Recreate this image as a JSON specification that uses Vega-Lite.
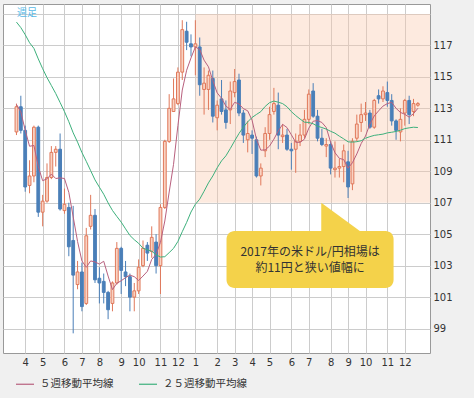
{
  "$schema": "https://vega.github.io/schema/vega-lite/v6.json",
  "width": 427,
  "height": 349,
  "autosize": {"type": "none"},
  "padding": {"left": 3, "top": 4, "right": 44, "bottom": 45},
  "config": {
    "background": "#f0f0f0",
    "view": {"fill": "#ffffff", "stroke": "#999999", "strokeWidth": 1},
    "font": "DejaVu Sans"
  },
  "resolve": {"axis": {"y": "independent"}},
  "encoding": {
    "x": {
      "field": "d",
      "type": "temporal",
      "title": null,
      "scale": {
        "domain": [
          {"year": 2016, "month": 3, "date": 7, "hours": 10},
          {"year": 2018, "month": 1, "date": 5, "hours": 10}
        ]
      },
      "axis": {
        "values": [
          {"year": 2016, "month": 4, "date": 4},
          {"year": 2016, "month": 5, "date": 2},
          {"year": 2016, "month": 6, "date": 6},
          {"year": 2016, "month": 7, "date": 4},
          {"year": 2016, "month": 8, "date": 1},
          {"year": 2016, "month": 9, "date": 5},
          {"year": 2016, "month": 10, "date": 3},
          {"year": 2016, "month": 11, "date": 7},
          {"year": 2016, "month": 12, "date": 5},
          {"year": 2017, "month": 1, "date": 2},
          {"year": 2017, "month": 2, "date": 6},
          {"year": 2017, "month": 3, "date": 6},
          {"year": 2017, "month": 4, "date": 3},
          {"year": 2017, "month": 5, "date": 1},
          {"year": 2017, "month": 6, "date": 5},
          {"year": 2017, "month": 7, "date": 3},
          {"year": 2017, "month": 8, "date": 7},
          {"year": 2017, "month": 9, "date": 4},
          {"year": 2017, "month": 10, "date": 2},
          {"year": 2017, "month": 11, "date": 6},
          {"year": 2017, "month": 12, "date": 4}
        ],
        "format": "%-m",
        "grid": true,
        "gridColor": "#cccccc",
        "ticks": false,
        "domain": false,
        "labelPadding": 4,
        "labelFont": "DejaVu Sans",
        "labelFontSize": 10,
        "labelColor": "#333333",
        "labelOverlap": false,
        "labelFlush": false
      }
    }
  },
  "layer": [
    {
      "data": {"values": [{"d": "2017-01-02", "d2": "2018-02-01", "lo": 107, "hi": 119}]},
      "mark": {"type": "rect", "fill": "#fac8aa", "opacity": 0.38, "clip": true},
      "encoding": {
        "x2": {"field": "d2"},
        "y": {
          "field": "lo",
          "type": "quantitative",
          "title": null,
          "scale": {"domain": [97.45, 119.63], "nice": false, "zero": false},
          "axis": {
            "orient": "right",
            "values": [99, 101, 103, 105, 107, 109, 111, 113, 115, 117, 119],
            "labelExpr": "datum.value == 119 ? '' : datum.label",
            "grid": true,
            "gridColor": "#cccccc",
            "ticks": false,
            "domain": false,
            "labelPadding": 3,
            "labelFont": "DejaVu Sans",
            "labelFontSize": 10,
            "labelColor": "#333333",
            "labelOverlap": false,
            "labelFlush": false
          }
        },
        "y2": {"field": "hi"}
      }
    },
    {
      "data": {"name": "w"},
      "mark": {"type": "rule", "strokeWidth": 1},
      "encoding": {
        "y": {"field": "l", "type": "quantitative", "title": null, "axis": null},
        "y2": {"field": "h"},
        "color": {"condition": {"test": "datum.c >= datum.o", "value": "#e0785a"}, "value": "#4a7fb8"}
      }
    },
    {
      "data": {"name": "w"},
      "mark": {"type": "bar", "size": 2.8, "strokeWidth": 1},
      "encoding": {
        "y": {"field": "o", "type": "quantitative", "title": null, "axis": null},
        "y2": {"field": "c"},
        "fill": {"condition": {"test": "datum.c >= datum.o", "value": "#f9d3c3"}, "value": "#4a7fb8"},
        "stroke": {"condition": {"test": "datum.c >= datum.o", "value": "#e0785a"}, "value": "#4a7fb8"}
      }
    },
    {
      "data": {"name": "w"},
      "transform": [{"fold": ["m5", "m25"], "as": ["s", "v"]}],
      "mark": {"type": "line", "strokeWidth": 1},
      "encoding": {
        "y": {"field": "v", "type": "quantitative", "title": null, "axis": null},
        "color": {
          "field": "s",
          "type": "nominal",
          "scale": {"domain": ["m5", "m25"], "range": ["#b8607e", "#3db07c"]},
          "legend": {
            "orient": "none",
            "legendX": 12,
            "legendY": 370,
            "direction": "horizontal",
            "title": null,
            "symbolType": "stroke",
            "symbolSize": 324,
            "symbolStrokeWidth": 1.2,
            "labelOffset": 5,
            "columnPadding": 22,
            "labelFont": "Noto Sans CJK JP",
            "labelFontSize": 10.5,
            "labelColor": "#333333",
            "labelExpr": "datum.value == 'm5' ? '５週移動平均線' : '２５週移動平均線'"
          }
        }
      }
    },
    {
      "data": {"values": [{"d": "2017-07-23", "t": 107.0, "b": 105.0}, {"d": "2017-09-30", "t": 105.0, "b": 105.0}]},
      "mark": {"type": "area", "fill": "#f4d24a", "opacity": 1},
      "encoding": {
        "y": {"field": "t", "type": "quantitative", "title": null, "axis": null},
        "y2": {"field": "b"}
      }
    },
    {
      "data": {"values": [{"d": "2017-02-21", "d2": "2017-11-16", "lo": 101.58, "hi": 105.2}]},
      "mark": {"type": "rect", "fill": "#f4d24a", "cornerRadius": 8},
      "encoding": {
        "x2": {"field": "d2"},
        "y": {"field": "lo", "type": "quantitative", "title": null, "axis": null},
        "y2": {"field": "hi"}
      }
    },
    {
      "data": {"values": [
        {"d": "2017-07-05", "p": 103.87, "t": "2017年の米ドル/円相場は"},
        {"d": "2017-07-05", "p": 102.85, "t": "約11円と狭い値幅に"}
      ]},
      "mark": {"type": "text", "font": "Noto Sans CJK JP", "fontSize": 12, "color": "#333333", "align": "center", "baseline": "middle"},
      "encoding": {
        "y": {"field": "p", "type": "quantitative", "title": null, "axis": null},
        "text": {"field": "t"}
      }
    },
    {
      "data": {"values": [{"d": "2016-04-07", "p": 119.05, "t": "週足"}]},
      "mark": {"type": "text", "font": "Noto Sans CJK JP", "fontSize": 10, "color": "#5ab8e6", "align": "center", "baseline": "middle"},
      "encoding": {
        "y": {"field": "p", "type": "quantitative", "title": null, "axis": null},
        "text": {"field": "t"}
      }
    }
  ],
  "datasets": {
    "w": [
      {"d": "2016-03-21", "o": 111.5, "h": 113.3, "l": 111.3, "c": 113.1, "m5": 113.25, "m25": 118.48},
      {"d": "2016-03-28", "o": 113.1, "h": 113.8, "l": 111.4, "c": 111.6, "m5": 112.77, "m25": 118.13},
      {"d": "2016-04-04", "o": 111.6, "h": 111.9, "l": 107.7, "c": 108.0, "m5": 111.61, "m25": 117.68},
      {"d": "2016-04-11", "o": 108.1, "h": 109.7, "l": 107.6, "c": 108.7, "m5": 110.59, "m25": 117.17},
      {"d": "2016-04-18", "o": 108.7, "h": 111.9, "l": 108.3, "c": 111.8, "m5": 110.64, "m25": 116.81},
      {"d": "2016-04-25", "o": 111.8, "h": 111.9, "l": 106.1, "c": 106.4, "m5": 109.30, "m25": 116.14},
      {"d": "2016-05-02", "o": 106.4, "h": 107.5, "l": 105.5, "c": 107.1, "m5": 108.40, "m25": 115.52},
      {"d": "2016-05-09", "o": 107.1, "h": 109.5, "l": 107.0, "c": 108.6, "m5": 108.52, "m25": 114.95},
      {"d": "2016-05-16", "o": 108.6, "h": 110.6, "l": 108.5, "c": 110.2, "m5": 108.82, "m25": 114.45},
      {"d": "2016-05-23", "o": 110.2, "h": 110.6, "l": 109.3, "c": 110.4, "m5": 108.54, "m25": 113.94},
      {"d": "2016-05-30", "o": 110.4, "h": 111.4, "l": 106.5, "c": 106.6, "m5": 108.58, "m25": 113.37},
      {"d": "2016-06-06", "o": 106.5, "h": 107.9, "l": 106.3, "c": 106.9, "m5": 108.54, "m25": 112.79},
      {"d": "2016-06-13", "o": 106.7, "h": 107.0, "l": 103.6, "c": 104.2, "m5": 107.66, "m25": 112.15},
      {"d": "2016-06-20", "o": 104.6, "h": 106.8, "l": 98.7, "c": 102.4, "m5": 106.10, "m25": 111.44},
      {"d": "2016-06-27", "o": 101.8, "h": 103.3, "l": 101.5, "c": 102.6, "m5": 104.54, "m25": 110.85},
      {"d": "2016-07-04", "o": 102.6, "h": 103.2, "l": 100.1, "c": 100.4, "m5": 103.30, "m25": 110.19},
      {"d": "2016-07-11", "o": 100.6, "h": 105.4, "l": 100.5, "c": 104.9, "m5": 102.90, "m25": 109.63},
      {"d": "2016-07-18", "o": 105.5, "h": 107.5, "l": 105.3, "c": 106.2, "m5": 103.30, "m25": 109.04},
      {"d": "2016-07-25", "o": 106.2, "h": 106.6, "l": 101.9, "c": 102.1, "m5": 103.24, "m25": 108.45},
      {"d": "2016-08-01", "o": 102.2, "h": 102.9, "l": 100.6, "c": 101.9, "m5": 103.10, "m25": 107.99},
      {"d": "2016-08-08", "o": 102.0, "h": 102.5, "l": 100.6, "c": 101.3, "m5": 103.28, "m25": 107.54},
      {"d": "2016-08-15", "o": 101.3, "h": 101.4, "l": 99.6, "c": 100.2, "m5": 102.34, "m25": 106.99},
      {"d": "2016-08-22", "o": 100.6, "h": 102.0, "l": 100.1, "c": 101.9, "m5": 101.48, "m25": 106.51},
      {"d": "2016-08-29", "o": 101.9, "h": 104.5, "l": 101.8, "c": 104.1, "m5": 101.88, "m25": 106.13},
      {"d": "2016-09-05", "o": 104.1, "h": 104.2, "l": 101.2, "c": 102.7, "m5": 102.04, "m25": 105.77},
      {"d": "2016-09-12", "o": 102.6, "h": 103.3, "l": 101.7, "c": 102.3, "m5": 102.24, "m25": 105.34},
      {"d": "2016-09-19", "o": 102.3, "h": 102.5, "l": 100.1, "c": 101.0, "m5": 102.40, "m25": 104.92},
      {"d": "2016-09-26", "o": 101.0, "h": 101.9, "l": 100.1, "c": 101.4, "m5": 102.30, "m25": 104.65},
      {"d": "2016-10-03", "o": 101.4, "h": 103.4, "l": 101.2, "c": 102.9, "m5": 102.06, "m25": 104.42},
      {"d": "2016-10-10", "o": 103.0, "h": 104.6, "l": 102.9, "c": 104.1, "m5": 102.34, "m25": 104.11},
      {"d": "2016-10-17", "o": 104.3, "h": 104.5, "l": 103.3, "c": 103.8, "m5": 102.64, "m25": 104.01},
      {"d": "2016-10-24", "o": 103.9, "h": 105.5, "l": 103.5, "c": 104.8, "m5": 103.40, "m25": 103.92},
      {"d": "2016-10-31", "o": 104.5, "h": 105.0, "l": 102.5, "c": 103.0, "m5": 103.72, "m25": 103.69},
      {"d": "2016-11-07", "o": 103.0, "h": 106.9, "l": 101.2, "c": 106.7, "m5": 104.48, "m25": 103.55},
      {"d": "2016-11-14", "o": 106.7, "h": 111.0, "l": 106.6, "c": 110.9, "m5": 105.84, "m25": 103.57},
      {"d": "2016-11-21", "o": 110.9, "h": 113.9, "l": 110.8, "c": 113.0, "m5": 107.68, "m25": 103.83},
      {"d": "2016-11-28", "o": 112.8, "h": 114.9, "l": 112.8, "c": 113.6, "m5": 109.44, "m25": 104.10},
      {"d": "2016-12-05", "o": 113.3, "h": 115.6, "l": 113.2, "c": 115.3, "m5": 111.90, "m25": 104.54},
      {"d": "2016-12-12", "o": 115.3, "h": 118.6, "l": 114.8, "c": 118.0, "m5": 114.16, "m25": 105.16},
      {"d": "2016-12-19", "o": 117.9, "h": 118.5, "l": 116.7, "c": 117.2, "m5": 115.42, "m25": 105.75},
      {"d": "2016-12-26", "o": 117.1, "h": 117.7, "l": 116.3, "c": 116.9, "m5": 116.20, "m25": 106.41},
      {"d": "2017-01-02", "o": 116.9, "h": 118.6, "l": 115.1, "c": 117.1, "m5": 116.90, "m25": 106.90},
      {"d": "2017-01-09", "o": 116.9, "h": 117.5, "l": 113.8, "c": 114.5, "m5": 116.74, "m25": 107.23},
      {"d": "2017-01-16", "o": 114.2, "h": 115.6, "l": 112.6, "c": 114.6, "m5": 116.06, "m25": 107.73},
      {"d": "2017-01-23", "o": 114.2, "h": 115.4, "l": 112.9, "c": 115.1, "m5": 115.64, "m25": 108.26},
      {"d": "2017-01-30", "o": 114.9, "h": 115.4, "l": 112.1, "c": 112.5, "m5": 114.76, "m25": 108.70},
      {"d": "2017-02-06", "o": 112.4, "h": 113.5, "l": 111.6, "c": 113.2, "m5": 113.98, "m25": 109.22},
      {"d": "2017-02-13", "o": 113.6, "h": 114.8, "l": 112.6, "c": 112.8, "m5": 113.64, "m25": 109.66},
      {"d": "2017-02-20", "o": 112.9, "h": 113.5, "l": 111.7, "c": 112.1, "m5": 113.14, "m25": 109.98},
      {"d": "2017-02-27", "o": 112.9, "h": 114.7, "l": 112.0, "c": 114.1, "m5": 112.94, "m25": 110.44},
      {"d": "2017-03-06", "o": 114.0, "h": 115.5, "l": 113.7, "c": 114.7, "m5": 113.38, "m25": 110.93},
      {"d": "2017-03-13", "o": 114.8, "h": 115.2, "l": 112.5, "c": 112.7, "m5": 113.28, "m25": 111.40},
      {"d": "2017-03-20", "o": 112.7, "h": 112.9, "l": 110.8, "c": 111.3, "m5": 112.98, "m25": 111.80},
      {"d": "2017-03-27", "o": 111.0, "h": 112.2, "l": 110.2, "c": 111.4, "m5": 112.84, "m25": 112.14},
      {"d": "2017-04-03", "o": 111.3, "h": 111.6, "l": 110.1, "c": 111.1, "m5": 112.24, "m25": 112.42},
      {"d": "2017-04-10", "o": 111.0, "h": 111.2, "l": 108.6, "c": 108.7, "m5": 111.04, "m25": 112.61},
      {"d": "2017-04-17", "o": 108.7, "h": 109.5, "l": 108.1, "c": 109.2, "m5": 110.34, "m25": 112.79},
      {"d": "2017-04-24", "o": 110.3, "h": 111.8, "l": 109.9, "c": 111.4, "m5": 110.36, "m25": 113.12},
      {"d": "2017-05-01", "o": 111.4, "h": 113.1, "l": 111.0, "c": 112.6, "m5": 110.60, "m25": 113.36},
      {"d": "2017-05-08", "o": 112.8, "h": 114.3, "l": 112.6, "c": 113.3, "m5": 111.04, "m25": 113.46},
      {"d": "2017-05-15", "o": 113.2, "h": 114.0, "l": 110.4, "c": 111.3, "m5": 111.56, "m25": 113.39},
      {"d": "2017-05-22", "o": 111.2, "h": 112.0, "l": 110.8, "c": 111.3, "m5": 111.98, "m25": 113.30},
      {"d": "2017-05-29", "o": 111.3, "h": 111.7, "l": 110.3, "c": 110.4, "m5": 111.78, "m25": 113.10},
      {"d": "2017-06-05", "o": 110.4, "h": 110.8, "l": 109.1, "c": 110.3, "m5": 111.32, "m25": 112.79},
      {"d": "2017-06-12", "o": 110.4, "h": 111.4, "l": 108.9, "c": 110.9, "m5": 110.84, "m25": 112.54},
      {"d": "2017-06-19", "o": 110.9, "h": 112.0, "l": 110.6, "c": 111.3, "m5": 110.84, "m25": 112.32},
      {"d": "2017-06-26", "o": 111.3, "h": 112.9, "l": 111.1, "c": 112.3, "m5": 111.04, "m25": 112.12},
      {"d": "2017-07-03", "o": 112.3, "h": 114.2, "l": 112.0, "c": 113.9, "m5": 111.74, "m25": 112.10},
      {"d": "2017-07-10", "o": 114.1, "h": 114.6, "l": 112.4, "c": 112.5, "m5": 112.18, "m25": 112.02},
      {"d": "2017-07-17", "o": 112.5, "h": 112.9, "l": 110.9, "c": 111.1, "m5": 112.22, "m25": 111.86},
      {"d": "2017-07-24", "o": 111.1, "h": 111.7, "l": 110.6, "c": 110.7, "m5": 112.10, "m25": 111.78},
      {"d": "2017-07-31", "o": 110.6, "h": 111.1, "l": 109.9, "c": 110.7, "m5": 111.78, "m25": 111.68},
      {"d": "2017-08-07", "o": 110.7, "h": 110.9, "l": 108.8, "c": 109.2, "m5": 110.84, "m25": 111.54},
      {"d": "2017-08-14", "o": 109.1, "h": 110.9, "l": 108.6, "c": 109.2, "m5": 110.18, "m25": 111.42},
      {"d": "2017-08-21", "o": 109.2, "h": 109.8, "l": 108.6, "c": 109.3, "m5": 109.82, "m25": 111.23},
      {"d": "2017-08-28", "o": 109.3, "h": 110.7, "l": 108.3, "c": 110.3, "m5": 109.74, "m25": 111.06},
      {"d": "2017-09-04", "o": 109.6, "h": 110.3, "l": 107.3, "c": 108.0, "m5": 109.20, "m25": 110.87},
      {"d": "2017-09-11", "o": 108.2, "h": 111.1, "l": 107.8, "c": 110.9, "m5": 109.54, "m25": 110.85},
      {"d": "2017-09-18", "o": 111.1, "h": 112.6, "l": 110.9, "c": 112.0, "m5": 110.10, "m25": 110.88},
      {"d": "2017-09-25", "o": 112.1, "h": 113.3, "l": 111.5, "c": 112.6, "m5": 110.76, "m25": 110.94},
      {"d": "2017-10-02", "o": 112.6, "h": 113.4, "l": 112.2, "c": 112.7, "m5": 111.24, "m25": 111.10},
      {"d": "2017-10-09", "o": 112.7, "h": 112.9, "l": 111.7, "c": 111.8, "m5": 112.00, "m25": 111.20},
      {"d": "2017-10-16", "o": 111.8, "h": 113.6, "l": 111.7, "c": 113.5, "m5": 112.52, "m25": 111.28},
      {"d": "2017-10-23", "o": 113.8, "h": 114.2, "l": 113.3, "c": 113.6, "m5": 112.84, "m25": 111.32},
      {"d": "2017-10-30", "o": 113.6, "h": 114.4, "l": 113.4, "c": 114.1, "m5": 113.14, "m25": 111.36},
      {"d": "2017-11-06", "o": 114.0, "h": 114.7, "l": 113.1, "c": 113.5, "m5": 113.30, "m25": 111.44},
      {"d": "2017-11-13", "o": 113.5, "h": 113.9, "l": 111.9, "c": 112.2, "m5": 113.38, "m25": 111.48},
      {"d": "2017-11-20", "o": 112.2, "h": 112.3, "l": 111.0, "c": 111.6, "m5": 113.00, "m25": 111.53},
      {"d": "2017-11-27", "o": 111.5, "h": 113.0, "l": 110.9, "c": 112.3, "m5": 112.74, "m25": 111.61},
      {"d": "2017-12-04", "o": 112.7, "h": 113.6, "l": 111.9, "c": 113.5, "m5": 112.62, "m25": 111.71},
      {"d": "2017-12-11", "o": 113.5, "h": 113.8, "l": 112.0, "c": 112.6, "m5": 112.44, "m25": 111.76},
      {"d": "2017-12-18", "o": 112.8, "h": 113.6, "l": 112.5, "c": 113.3, "m5": 112.66, "m25": 111.80},
      {"d": "2017-12-25", "o": 113.2, "h": 113.4, "l": 113.1, "c": 113.3, "m5": 113.00, "m25": 111.78}
    ]
  }
}
